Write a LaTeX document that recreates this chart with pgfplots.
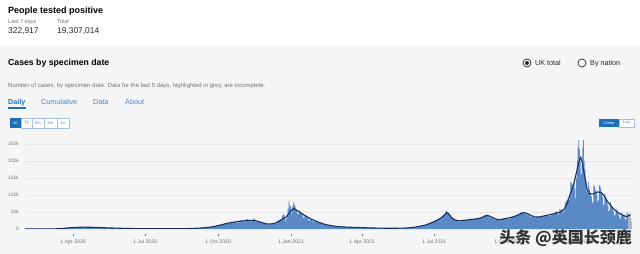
\documentclass[border=0pt]{standalone}
\usepackage{fontspec}
\setmainfont{Liberation Sans}
\newfontfamily\cjk{Noto Sans CJK SC}
\usepackage{pgfplots}
\pgfplotsset{compat=1.18}
\definecolor{barblue}{RGB}{90,138,198}
\definecolor{navy}{RGB}{22,48,102}
\definecolor{panel}{RGB}{245,245,245}
\definecolor{govblue}{RGB}{29,112,184}
\definecolor{tabblue}{RGB}{75,130,195}
\definecolor{txtgrey}{RGB}{115,115,115}
\definecolor{gridc}{RGB}{230,230,230}
\definecolor{incgrey}{RGB}{168,180,198}
\definecolor{btnborder}{RGB}{165,192,225}
\newcommand\fs[1]{\fontsize{#1}{#1}\selectfont}
\begin{document}
\begin{tikzpicture}[x=1pt,y=1pt]
\fill[panel] (0,0) rectangle (640,208);
\fill[white] (0,208) rectangle (640,254);
% header
\node[anchor=base west, inner sep=0] at (8,240) {\fs{9}\bfseries People tested positive};
\node[anchor=base west, inner sep=0, text=txtgrey] at (8,230.5) {\fs{5.5}Last 7 days};
\node[anchor=base west, inner sep=0, text=txtgrey] at (57,230.5) {\fs{5.5}Total};
\node[anchor=base west, inner sep=0, text=black!85] at (8,220.5) {\fs{8.4}322,917};
\node[anchor=base west, inner sep=0, text=black!85] at (57,220.5) {\fs{8.4}19,307,014};
\node[anchor=base west, inner sep=0] at (8,188.5) {\fs{8.7}\bfseries Cases by specimen date};
\node[anchor=base west, inner sep=0, text=txtgrey] at (8,166) {\fs{6}Number of cases, by specimen date. Data for the last 5 days, highlighted in grey, are incomplete.};
% tabs
\node[anchor=base west, inner sep=0, text=govblue] at (8,149) {\fs{7.2}\bfseries Daily};
\fill[govblue] (8,145.3) rectangle (25.5,146.6);
\node[anchor=base west, inner sep=0, text=tabblue] at (41,149) {\fs{7.2}Cumulative};
\node[anchor=base west, inner sep=0, text=tabblue] at (93,149) {\fs{7.2}Data};
\node[anchor=base west, inner sep=0, text=tabblue] at (125,149) {\fs{7.2}About};
% range buttons
\fill[govblue] (10,126) rectangle (21,136);
\node[text=white, inner sep=0] at (15.5,131) {\fs{4}all};
\draw[btnborder, fill=white, line width=0.5] (21,126) rectangle (69,136);
\draw[btnborder, line width=0.5] (32,126) -- (32,136) (44,126) -- (44,136) (57,126) -- (57,136);
\node[text=tabblue, inner sep=0] at (26.5,131) {\fs{4}1y};
\node[text=tabblue, inner sep=0] at (38,131) {\fs{4}6m};
\node[text=tabblue, inner sep=0] at (50.5,131) {\fs{4}3m};
\node[text=tabblue, inner sep=0] at (63,131) {\fs{4}1m};
% radio
\draw[black!85, line width=0.7] (527,191) circle (4);
\fill[black!85] (527,191) circle (2);
\node[anchor=base west, inner sep=0, text=black!85] at (535,188.4) {\fs{7.2}UK total};
\draw[black!85, line width=0.7] (582,191) circle (4);
\node[anchor=base west, inner sep=0, text=black!85] at (590,188.4) {\fs{7.2}By nation};
% linear/log
\fill[govblue] (599,127) rectangle (619,135);
\node[text=white, inner sep=0] at (609,131) {\fs{4}Linear};
\draw[btnborder, fill=white, line width=0.5] (619,127) rectangle (634,135);
\node[text=tabblue, inner sep=0] at (626.5,131) {\fs{4}Log};
\begin{axis}[at={(24.8pt,25pt)}, anchor=south west, scale only axis,
  width=607.4pt, height=88.4pt,
  xmin=30, xmax=797, ymin=0, ymax=260,
  axis line style={draw=none},
  ymajorgrids, grid style={gridc, line width=0.5pt},
  ytick={0,50,100,150,200,250},
  yticklabels={0,50k,100k,150k,200k,250k},
  xtick={91,182,274,366,456,547,639,731},
  xticklabels={1 Apr 2020,1 Jul 2020,1 Oct 2020,1 Jan 2021,1 Apr 2021,1 Jul 2021,1 Oct 2021,1 Jan 2022},
  xtick pos=bottom, ytick pos=left,
  tick align=outside, major tick length=2.4pt,
  xtick style={draw=txtgrey, line width=0.4pt, yshift=-5pt},
  ytick style={draw=none},
  ticklabel style={font=\fs{5.2}, text=txtgrey},
  xticklabel style={yshift=-4.5pt},
  yticklabel style={font=\fs{4.8}},
]
\addplot[ybar interval, fill=barblue, draw=none] coordinates {
(30,0)(50,0.02)(60,0.1)(66,0.3)(70,0.6)(74,1.2)(78,2)(82,2.8)(86,3.5)(90,4.4)(94,5)(98,5.3)(102,5.6)(106,5.5)(110,5.3)(114,5)(118,4.8)(122,4.3)(126,3.9)(130,3.6)(136,3.1)(142,2.7)(148,2.3)(155,1.9)(162,1.5)(170,1.1)(180,0.9)(190,0.7)(205,0.75)(220,0.95)(232,1.2)(240,1.6)(246,2.1)(250,2.7)(254,3.3)(258,4)(262,5)(266,6.5)(270,8.5)(273,10.5)(276,12)(279,14)(282,16)(285,15)(288,19)(291,20)(294,22)(297,19)(300,24)(303,25)(306,22)(309,28)(312,26)(315,23)(318,30)(321,22)(324,21)(327,18)(330,17)(333,15)
(335,15)(336,14)(337,14)(338,13)(339,11)(340,12)(341,17)(342,16)(343,16)(344,17)(345,16)(346,14)(347,15)(348,23)(349,24)(350,25)(351,27)(352,28)(353,26)(354,29)(355,40)(356,43)(357,40)(358,35)(359,20)(360,30)(361,43)(362,60)(363,82)(364,72)(365,65)(366,45)(367,60)(368,68)(369,80)(370,72)(371,65)(372,60)(373,55)(374,45)(375,42)(376,55)(377,52)(378,48)(379,45)(380,42)(381,34)(382,32)(383,42)(384,40)(385,37)(386,34)(387,31)(388,25)(389,24)(390,30)(391,28)
(392,26)(393,24)(394,22)(396,24)(398,21)(400,18)(402,17)(404,15)(407,14)(410,12)(414,11)(418,9)(422,8)(426,7)(430,6.3)(435,5.8)(440,5.3)(446,4.8)(452,4.4)(458,3.8)(465,3.2)(472,2.7)(480,2.4)(490,2.2)(500,2.2)(508,2.6)(513,3.2)(517,4)(521,5)(525,6.5)(529,8.5)(532,10)(535,11.5)(538,14)(541,17)(544,20)(547,23)(549,26)(551,28)(553,31)(555,34)(557,39)(559,44)(561,50)(562,54)(563,50)(564,47)(566,40)(568,34)(570,30)(572,27)(574,25)(577,22)(580,26)(583,27)(586,25)(589,28)(592,30)(595,26)(598,31)(601,30)(604,33)(607,35)(610,40)(612,42)(614,38)(616,34)(619,32)(622,28)(625,27)(628,25)(631,30)(634,31)(637,33)(640,30)(643,36)(646,38)(649,40)(652,44)(655,48)(657,50)(659,47)(661,44)(664,42)(667,37)(670,36)(673,33)(676,35)(679,37)(682,36)(685,39)(688,41)(691,38)(694,43)(697,45)(699,46)
(700,52)(701,51)(702,48)(703,42)(704,45)(705,58)(706,56)(707,55)(708,58)(709,54)(710,48)(711,55)(712,78)(713,80)(714,85)(715,90)(716,92)(717,85)(718,100)(719,140)(720,135)(721,130)(722,125)(723,135)(724,120)(725,90)(726,150)(727,200)(728,240)(729,273)(730,235)(731,200)(732,160)(733,190)(734,240)(735,273)(736,200)(737,175)(738,145)(739,110)(740,105)(741,140)(742,125)(743,115)(744,105)(745,95)(746,75)(747,80)(748,130)(749,125)(750,115)(751,110)(752,100)(753,80)(754,85)(755,130)(756,125)(757,118)(758,105)(759,95)(760,70)(761,72)(762,105)(763,95)(764,85)(765,78)(766,68)(767,52)(768,55)(769,80)(770,72)(771,65)(772,60)(773,52)(774,40)(775,42)(776,60)(777,55)(778,50)(779,45)(780,40)(781,30)(782,32)(783,48)(784,44)(785,40)(786,38)(787,34)(788,26)(789,30)(790,48)(791,45)(792,0)
};
\addplot[ybar interval, fill=incgrey, draw=none] coordinates {
(792,46)(793,42)(794,38)(795,30)(796,20)(797,0)
};
\addplot[navy, line width=1.1pt, line join=round] coordinates {
(30,0)(55,0.05)(65,0.2)(72,0.8)(78,1.8)(84,3)(90,4.2)(97,5)(104,5.4)(112,5.2)(120,4.6)(130,3.7)(140,2.9)(152,2.1)(165,1.4)(180,0.9)(195,0.7)(212,0.8)(228,1.1)(240,1.5)(248,2.3)(255,3.4)(262,4.8)(268,7)(274,10)(280,13.5)(286,17)(292,19.5)(298,21.5)(304,23.5)(310,25)(316,25.5)(321,24.5)(326,21.5)(331,17.5)(336,15)(341,14.5)(346,17)(351,22)(356,30)(360,35)(363,44)(366,53)(369,60)(372,57)(376,51)(380,45)(385,38)(390,31)(396,25)(402,19)(410,13)(420,8.5)(430,6.2)(440,5.2)(452,4.3)(465,3.2)(480,2.4)(495,2.2)(508,2.5)(516,3.6)(523,5.5)(530,8.5)(537,12.5)(543,18)(549,24)(554,30)(558,37)(561,44)(563,48)(565,45)(568,36)(572,28)(577,24)(583,25)(590,27)(598,29)(605,32)(611,38)(614,40)(618,37)(623,31)(628,27)(634,29)(640,32)(646,35)(652,40)(657,46)(661,48)(665,45)(670,39)(675,35)(681,36)(687,39)(693,42)(700,46)(706,50)(711,58)(715,75)(719,105)(723,130)(727,170)(730,200)(732,212)(734,195)(737,155)(740,115)(743,104)(748,103)(753,109)(758,107)(762,96)(766,80)(770,68)(775,56)(780,47)(785,41)(790,36)(793,40)(795,42)
};
\end{axis}
% watermark
\node[anchor=east, inner sep=0, text=black!80] at (632,15.5) {\cjk\bfseries\fs{16}头条 @英国长颈鹿};
\end{tikzpicture}
\end{document}
